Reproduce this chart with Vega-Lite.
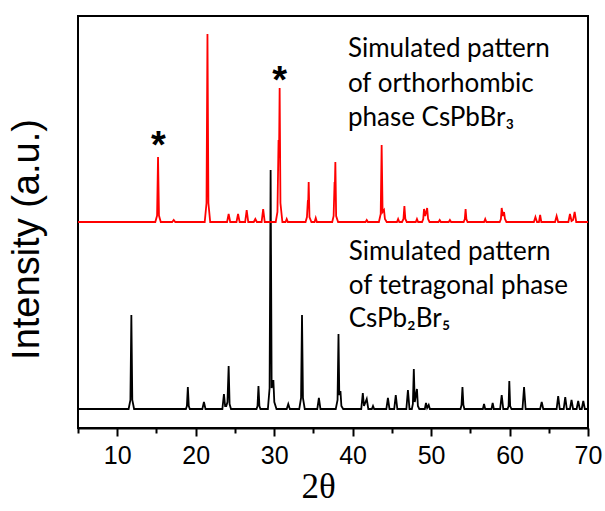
{
  "$schema": "https://vega.github.io/schema/vega-lite/v6.json",
  "width": 510,
  "height": 412,
  "autosize": {"type": "none"},
  "padding": {"left": 78, "top": 16, "right": 17, "bottom": 83},
  "background": "white",
  "config": {"view": {"stroke": "black", "strokeWidth": 2}},
  "datasets": {
    "orth": [
      {"x":5,"y":206},
      {"x":14.85,"y":206},{"x":15.08,"y":212.5},{"x":15.2,"y":271},{"x":15.32,"y":212.5},{"x":15.55,"y":206},
      {"x":17.0,"y":206},{"x":17.2,"y":208},{"x":17.4,"y":206},
      {"x":21.15,"y":206},{"x":21.38,"y":225},{"x":21.5,"y":394},{"x":21.62,"y":225},{"x":21.85,"y":206},
      {"x":24.0,"y":206},{"x":24.2,"y":214},{"x":24.4,"y":206},
      {"x":25.2,"y":206},{"x":25.4,"y":214},{"x":25.6,"y":206},
      {"x":26.3,"y":206},{"x":26.5,"y":218},{"x":26.7,"y":206},
      {"x":27.4,"y":206},{"x":27.6,"y":209},{"x":27.8,"y":206},
      {"x":28.4,"y":206},{"x":28.6,"y":219},{"x":28.8,"y":206},
      {"x":30.2,"y":206},{"x":30.42,"y":216},{"x":30.56,"y":288},{"x":30.62,"y":270},{"x":30.7,"y":340},{"x":30.8,"y":225},{"x":31.05,"y":206},
      {"x":31.45,"y":206},{"x":31.6,"y":209},{"x":31.75,"y":206},
      {"x":34.0,"y":206},{"x":34.18,"y":211},{"x":34.3,"y":228},{"x":34.34,"y":225},{"x":34.4,"y":246},{"x":34.5,"y":211},{"x":34.75,"y":206},
      {"x":35.15,"y":206},{"x":35.3,"y":210},{"x":35.45,"y":206},
      {"x":37.4,"y":206},{"x":37.58,"y":212},{"x":37.7,"y":246},{"x":37.74,"y":242},{"x":37.8,"y":266},{"x":37.9,"y":212},{"x":38.15,"y":206},
      {"x":41.65,"y":206},{"x":41.8,"y":208},{"x":41.95,"y":206},
      {"x":43.35,"y":206},{"x":43.58,"y":214},{"x":43.7,"y":283},{"x":43.82,"y":216},{"x":44.0,"y":218},{"x":44.12,"y":209},{"x":44.35,"y":206},
      {"x":45.65,"y":206},{"x":45.8,"y":209},{"x":45.95,"y":206},
      {"x":46.3,"y":206},{"x":46.48,"y":209},{"x":46.6,"y":222},{"x":46.72,"y":209},{"x":46.9,"y":206},
      {"x":48.05,"y":206},{"x":48.2,"y":209},{"x":48.35,"y":206},
      {"x":48.85,"y":206},{"x":49.0,"y":209},{"x":49.1,"y":219},{"x":49.25,"y":212},{"x":49.5,"y":220},{"x":49.62,"y":209},{"x":49.8,"y":206},
      {"x":50.95,"y":206},{"x":51.1,"y":208},{"x":51.25,"y":206},
      {"x":52.25,"y":206},{"x":52.4,"y":208},{"x":52.55,"y":206},
      {"x":54.15,"y":206},{"x":54.3,"y":209},{"x":54.4,"y":219},{"x":54.5,"y":209},{"x":54.65,"y":206},
      {"x":56.75,"y":206},{"x":56.9,"y":209},{"x":57.05,"y":206},
      {"x":58.75,"y":206},{"x":58.9,"y":209},{"x":59.0,"y":220},{"x":59.15,"y":212},{"x":59.3,"y":216},{"x":59.42,"y":209},{"x":59.6,"y":206},
      {"x":63.1,"y":206},{"x":63.3,"y":211},{"x":63.5,"y":206},{"x":63.75,"y":206},{"x":63.9,"y":213},{"x":64.05,"y":206},
      {"x":65.8,"y":206},{"x":66.0,"y":212},{"x":66.2,"y":206},
      {"x":67.5,"y":206},{"x":67.7,"y":214},{"x":67.9,"y":207},{"x":68.1,"y":208},{"x":68.3,"y":216},{"x":68.5,"y":206},
      {"x":70,"y":206}
    ],
    "tet": [
      {"x":5,"y":19},
      {"x":11.45,"y":19},{"x":11.68,"y":28},{"x":11.8,"y":113},{"x":11.92,"y":28},{"x":12.15,"y":19},
      {"x":18.75,"y":19},{"x":18.88,"y":22},{"x":19.0,"y":41},{"x":19.12,"y":22},{"x":19.25,"y":19},
      {"x":20.85,"y":19},{"x":21.05,"y":26},{"x":21.25,"y":19},
      {"x":23.4,"y":19},{"x":23.6,"y":34},{"x":23.75,"y":22},{"x":23.9,"y":22},{"x":24.05,"y":26},{"x":24.2,"y":62},{"x":24.32,"y":24},{"x":24.5,"y":19},
      {"x":27.75,"y":19},{"x":27.88,"y":22},{"x":28.0,"y":42},{"x":28.12,"y":22},{"x":28.25,"y":19},
      {"x":29.2,"y":19},{"x":29.42,"y":40},{"x":29.55,"y":258},{"x":29.68,"y":40},{"x":29.9,"y":48},{"x":30.02,"y":26},{"x":30.3,"y":19},
      {"x":31.6,"y":19},{"x":31.8,"y":24},{"x":32.0,"y":19},
      {"x":33.2,"y":19},{"x":33.43,"y":30},{"x":33.55,"y":113},{"x":33.67,"y":30},{"x":33.9,"y":19},
      {"x":35.5,"y":19},{"x":35.7,"y":30},{"x":35.9,"y":19},
      {"x":37.85,"y":19},{"x":38.08,"y":28},{"x":38.2,"y":94},{"x":38.3,"y":33},{"x":38.45,"y":37},{"x":38.57,"y":22},{"x":38.8,"y":19},
      {"x":41.1,"y":19},{"x":41.3,"y":35},{"x":41.45,"y":22},{"x":41.8,"y":29},{"x":42.0,"y":19},
      {"x":42.45,"y":19},{"x":42.6,"y":22},{"x":42.75,"y":19},
      {"x":44.3,"y":19},{"x":44.5,"y":30},{"x":44.7,"y":19},
      {"x":45.3,"y":19},{"x":45.5,"y":33},{"x":45.7,"y":19},
      {"x":46.85,"y":19},{"x":47.05,"y":38},{"x":47.25,"y":19},
      {"x":47.55,"y":19},{"x":47.68,"y":24},{"x":47.8,"y":59},{"x":47.92,"y":26},{"x":48.2,"y":39},{"x":48.32,"y":22},{"x":48.5,"y":19},
      {"x":49.2,"y":19},{"x":49.35,"y":25},{"x":49.5,"y":20},{"x":49.7,"y":23},{"x":49.85,"y":19},
      {"x":53.75,"y":19},{"x":53.88,"y":23},{"x":54.0,"y":41},{"x":54.12,"y":23},{"x":54.25,"y":19},
      {"x":56.6,"y":19},{"x":56.75,"y":24},{"x":56.9,"y":19},
      {"x":57.7,"y":19},{"x":57.85,"y":25},{"x":58.0,"y":19},
      {"x":58.8,"y":19},{"x":59.0,"y":33},{"x":59.2,"y":19},
      {"x":59.75,"y":19},{"x":59.88,"y":22},{"x":59.97,"y":47},{"x":60.08,"y":22},{"x":60.25,"y":19},
      {"x":61.65,"y":19},{"x":61.85,"y":41},{"x":62.05,"y":19},
      {"x":63.9,"y":19},{"x":64.1,"y":26},{"x":64.3,"y":19},
      {"x":66.0,"y":19},{"x":66.2,"y":32},{"x":66.4,"y":19},
      {"x":66.9,"y":19},{"x":67.1,"y":31},{"x":67.3,"y":19},
      {"x":67.7,"y":19},{"x":67.9,"y":28},{"x":68.1,"y":19},
      {"x":68.55,"y":19},{"x":68.75,"y":27},{"x":68.95,"y":19},
      {"x":69.2,"y":19},{"x":69.4,"y":27},{"x":69.6,"y":19},
      {"x":70,"y":19}
    ],
    "notes": [
      {"x":39.4,"y":371,"t":"Simulated pattern"},
      {"x":39.4,"y":336,"t":"of orthorhombic"},
      {"x":39.4,"y":302,"t":"phase CsPbBr₃"},
      {"x":39.5,"y":168,"t":"Simulated pattern"},
      {"x":39.5,"y":134,"t":"of tetragonal phase"},
      {"x":39.5,"y":101,"t":"CsPb₂Br₅"}
    ],
    "stars": [
      {"x":15.25,"y":270,"t":"*"},
      {"x":30.7,"y":335,"t":"*"}
    ]
  },
  "encoding": {
    "x": {
      "field": "x", "type": "quantitative",
      "scale": {"domain": [5, 70], "nice": false, "zero": false},
      "axis": {
        "title": "2θ",
        "titleFont": "Liberation Serif", "titleFontSize": 35, "titleFontWeight": "normal", "titleColor": "black",
        "titlePadding": 1, "titleX": 240,
        "values": [5,10,15,20,25,30,35,40,45,50,55,60,65,70],
        "labelExpr": "datum.value % 10 === 0 ? datum.label : ''",
        "labelFont": "Liberation Sans", "labelFontSize": 25, "labelColor": "black", "labelPadding": 7,
        "labelFlush": false, "labelOverlap": false,
        "tickSize": {"condition": {"test": "datum.value % 10 === 0", "value": 8}, "value": 5},
        "tickColor": "black", "tickWidth": 2,
        "domainColor": "black", "domainWidth": 2, "grid": false
      }
    },
    "y": {
      "field": "y", "type": "quantitative",
      "scale": {"domain": [0, 412], "nice": false},
      "axis": {
        "title": "Intensity (a.u.)",
        "titleFont": "Liberation Sans", "titleFontSize": 38, "titleFontWeight": "normal", "titleColor": "black",
        "titleAngle": -90, "titleBaseline": "alphabetic", "titleAlign": "center",
        "titleX": -40, "titleY": 223,
        "labels": false, "ticks": false, "domain": false, "grid": false
      }
    }
  },
  "layer": [
    {
      "data": {"name": "tet"},
      "mark": {"type": "line", "color": "black", "strokeWidth": 1.8, "interpolate": "linear"}
    },
    {
      "data": {"name": "orth"},
      "mark": {"type": "line", "color": "#ff0000", "strokeWidth": 1.8, "interpolate": "linear"}
    },
    {
      "data": {"name": "notes"},
      "mark": {"type": "text", "align": "left", "baseline": "alphabetic", "font": "Lato, DejaVu Sans", "fontSize": 26, "color": "black"},
      "encoding": {"text": {"field": "t"}}
    },
    {
      "data": {"name": "stars"},
      "mark": {"type": "text", "align": "center", "baseline": "alphabetic", "font": "Liberation Sans", "fontWeight": "bold", "fontSize": 38, "color": "black"},
      "encoding": {"text": {"field": "t"}}
    }
  ]
}
